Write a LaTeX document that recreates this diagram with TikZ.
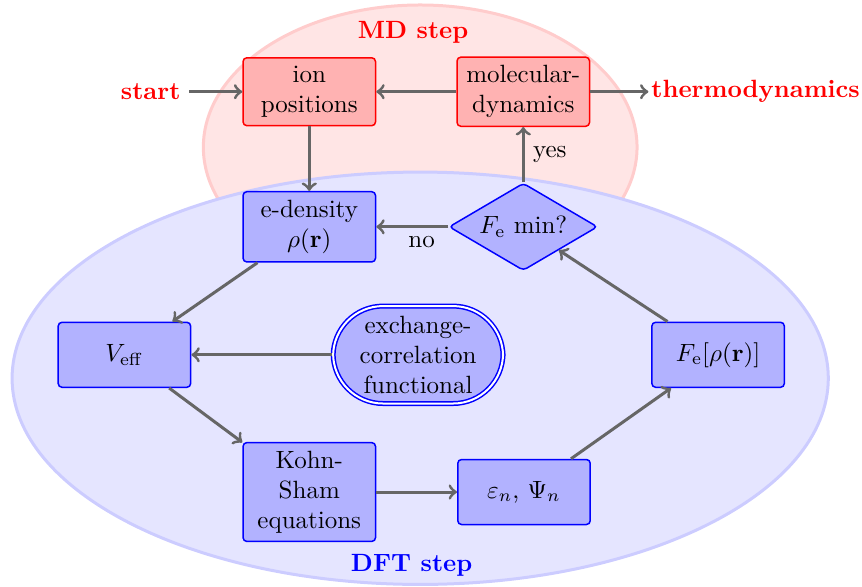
\documentclass[tikz,border=0pt]{standalone}
\usepackage{amsmath}
\usepackage{tikz}
\usetikzlibrary{shapes.geometric}
\definecolor{flowgray}{RGB}{102, 102, 102}

\begin{document}
\begin{tikzpicture}[
  mdbox/.style={draw=red, fill=red!30, semithick, rounded corners=1.5pt, align=center, minimum width=53pt, minimum height=26pt},
  dftbox/.style={draw=blue, fill=blue!30, semithick, rounded corners=1.5pt, align=center, minimum width=53pt, minimum height=26pt},
  flow/.style={->, very thick, flowgray}]
  \useasboundingbox (0, 0) rectangle (12.124, -8.256);

  % the two steps
  \draw[very thick, draw=red!20, fill=red!10] (5.91, -2.07) ellipse (3.05 and 2.00);
  \draw[very thick, draw=blue!20, fill=blue!10] (5.91, -5.32) ellipse (5.74 and 2.90);
  \node[font=\bfseries, red] (mdlabel) at (5.81, -0.45) {MD step};
  \node[font=\bfseries, blue] (dftlabel) at (5.79, -7.95) {DFT step};

  % MD part
  \node[font=\bfseries, red] (start) at (2.12, -1.29) {start};
  \node[mdbox] (ion) at (4.35, -1.29) {ion\\positions};
  \node[mdbox] (md) at (7.36, -1.29) {molecular-\\dynamics};
  \node[font=\bfseries, red, anchor=west, inner xsep=1pt] (thermo) at (9.12, -1.29) {thermodynamics};

  % DFT part
  \node[dftbox] (dens) at (4.35, -3.19) {e-density\\$\rho(\mathbf{r})$};
  \node[diamond, aspect=1.7, inner sep=1.8pt, draw=blue, fill=blue!30, semithick, rounded corners=1.5pt] (fmin) at (7.36, -3.19) {$F_\mathrm{e}$ min?};
  \node[dftbox] (veff) at (1.75, -4.99) {$V_\mathrm{eff}$};
  \node[draw=blue, fill=blue!30, semithick, double, double distance=0.8pt, rounded corners=20pt, align=center, minimum width=68pt, minimum height=39pt] (xc) at (5.88, -4.99) {exchange-\\correlation\\functional};
  \node[dftbox] (fe) at (10.10, -4.99) {$F_\mathrm{e}[\rho(\mathbf{r})]$};
  \node[dftbox] (ks) at (4.35, -6.92) {Kohn-\\Sham\\equations};
  \node[dftbox] (eps) at (7.37, -6.92) {$\varepsilon_n$, $\Psi_n$};

  \draw[flow] (start) -- (ion);
  \draw[flow] (md) -- (ion);
  \draw[flow] (md) -- (thermo);
  \draw[flow] (ion) -- (dens);
  \draw[flow] (fmin) -- node[right, text=black] {yes} (md);
  \draw[flow] (fmin) -- node[below, pos=0.37, text=black] {no} (dens);
  \draw[flow] (dens) -- (veff);
  \draw[flow] (xc) -- (veff);
  \draw[flow] (veff) -- (ks);
  \draw[flow] (ks) -- (eps);
  \draw[flow] (eps) -- (fe);
  \draw[flow] (fe) -- (fmin);
\end{tikzpicture}
\end{document}
